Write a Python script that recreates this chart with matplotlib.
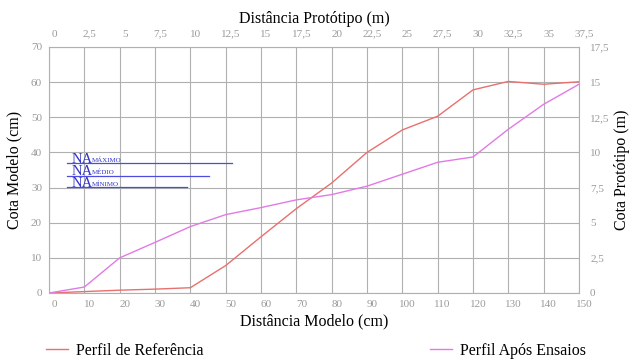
import numpy as np
import matplotlib
matplotlib.use("Agg")
from matplotlib import pyplot as plt
from matplotlib.lines import Line2D
from matplotlib.transforms import ScaledTranslation

# distancia modelo (cm) e cota modelo (cm)
x_ref = [0, 10, 20, 30, 40, 50, 60, 70, 80, 90, 100, 110, 120, 130, 140, 150]
y_ref = [0, 0.4, 0.8, 1.1, 1.5, 7.8, 16, 24, 31.3, 40, 46.4, 50.3, 57.8, 60.2, 59.4, 60.1]

x_ens = [0, 10, 20, 30, 40, 50, 60, 70, 80, 90, 100, 110, 120, 130, 140, 150]
y_ens = [0, 1.7, 10, 14.4, 18.9, 22.3, 24.3, 26.5, 28, 30.4, 33.8, 37.2, 38.7, 46.6, 53.7, 59.4]

# niveis de agua: (nome, cota, fim da linha)
na_names = ["MÁXIMO", "MÉDIO", "MÍNIMO"]
na_levels = [36.9, 33.4, 30.1]
na_ends = [51.8, 45.3, 39.0]
na_start = 5.1

scale = 4  # modelo -> prototipo

x_ticks = np.arange(0, 151, 10)
y_ticks = np.arange(0, 71, 10)

red = "#e8706e"
pink = "#e27ae6"
blue = "#4c4ce0"
grey = "#9a9a9a"

plt.rcParams["font.family"] = ["Liberation Serif", "DejaVu Serif"]

fig = plt.figure(figsize=(6.29, 3.6), dpi=100)
ax = fig.add_axes([49 / 629, 67 / 360, 530 / 629, 246 / 360])

ax.plot(x_ref, y_ref, color=red, lw=1.0)
ax.plot(x_ens, y_ens, color=pink, lw=1.0)

for name, lvl, end in zip(na_names, na_levels, na_ends):
    ax.plot([na_start, end], [lvl, lvl], color=blue, lw=0.9)
    ax.annotate("NA", (na_start + 1.3, lvl), xytext=(0, 0.5), textcoords="offset points",
                color="#3434c8", fontsize=10.5, ha="left", va="baseline")
    ax.annotate(name, (na_start + 1.3, lvl), xytext=(14.5, 1.2), textcoords="offset points",
                color="#3434c8", fontsize=5, ha="left", va="baseline")

ax.set_xlim(0, 150)
ax.set_ylim(0, 70)
ax.set_xticks(x_ticks)
ax.set_yticks(y_ticks)
ax.grid(True, color="#b0b0b0", lw=0.8)
ax.set_axisbelow(True)
for s in ax.spines.values():
    s.set_color("#b0b0b0")
    s.set_linewidth(0.8)
ax.tick_params(length=0, labelsize=8, labelcolor=grey, pad=5)
ax.set_xlabel("Distância Modelo (cm)", fontsize=11.5, labelpad=3)
ax.set_ylabel("Cota Modelo (cm)", fontsize=11.5, labelpad=6)


def comma(v, pos=None):
    s = ("%g" % v)
    return s.replace(".", ",")


top = ax.secondary_xaxis("top", functions=(lambda v: v / scale, lambda v: v * scale))
top.set_xticks(x_ticks / scale)
top.xaxis.set_major_formatter(plt.FuncFormatter(comma))
top.tick_params(length=0, labelsize=8, labelcolor=grey, pad=6)
top.spines["top"].set_visible(False)
top.set_xlabel("Distância Protótipo (m)", fontsize=11.5, labelpad=5)

right = ax.secondary_yaxis("right", functions=(lambda v: v / scale, lambda v: v * scale))
right.set_yticks(y_ticks / scale)
right.yaxis.set_major_formatter(plt.FuncFormatter(comma))
right.tick_params(length=0, labelsize=8, labelcolor=grey, pad=8)
right.spines["right"].set_visible(False)
right.set_ylabel("Cota Protótipo (m)", fontsize=11.5, labelpad=3)

# labels a little right of the grid lines, as in the original
shift = ScaledTranslation(5 / 100, 0, fig.dpi_scale_trans)
for lab in ax.get_xticklabels() + top.get_xticklabels():
    lab.set_transform(lab.get_transform() + shift)

h1 = Line2D([], [], color=red, lw=1.0)
h2 = Line2D([], [], color=pink, lw=1.0)
fig.legend([h1], ["Perfil de Referência"], loc="center left", bbox_to_anchor=(0.05, 0.025),
           frameon=False, fontsize=11.5, handlelength=1.4, handletextpad=0.5)
fig.legend([h2], ["Perfil Após Ensaios"], loc="center left", bbox_to_anchor=(0.66, 0.025),
           frameon=False, fontsize=11.5, handlelength=1.4, handletextpad=0.5)

fig.savefig("out.png", dpi=100)
